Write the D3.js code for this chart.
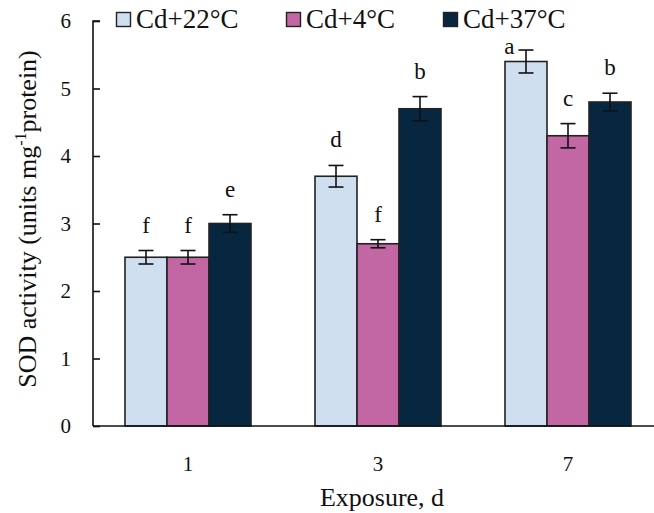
<!DOCTYPE html>
<html>
<head>
<meta charset="utf-8">
<script src="https://cdn.jsdelivr.net/npm/d3@7"></script>
<style>
  html, body { margin: 0; padding: 0; background: #fff; }
  svg { display: block; font-family: "Liberation Serif", "Times New Roman", serif; }
</style>
</head>
<body>
<svg id="chart" width="654" height="513"></svg>
<script>
// Exposure days and treatment series
const days = ["1", "3", "7"];
const series = ["Cd+22°C", "Cd+4°C", "Cd+37°C"];

// SOD activity (units mg-1 protein), one array per series, ordered by day
const sod22 = [2.5, 3.7, 5.4];
const sod4  = [2.5, 2.7, 4.3];
const sod37 = [3.0, 4.7, 4.8];

// Error bar half-lengths
const err22 = [0.10, 0.16, 0.17];
const err4  = [0.10, 0.06, 0.18];
const err37 = [0.13, 0.18, 0.13];

// Significance letters
const sig22 = ["f", "d", "a"];
const sig4  = ["f", "f", "c"];
const sig37 = ["e", "b", "b"];

const yTicks = [0, 1, 2, 3, 4, 5, 6];

const colors = ["#d0dfef", "#c267a4", "#07263f"];

const values = [sod22, sod4, sod37];
const errors = [err22, err4, err37];
const letters = [sig22, sig4, sig37];

const rows = [];
days.forEach((d, i) => {
  series.forEach((s, j) => {
    rows.push({ day: d, series: s, j, value: values[j][i], err: errors[j][i], sig: letters[j][i] });
  });
});

const svg = d3.select("#chart");
const axisX = 93, plotTop = 21, plotBottom = 426, plotRight = 663;

const y = d3.scaleLinear().domain([0, 6]).range([plotBottom, plotTop]);
const x0 = d3.scalePoint().domain(days).range([axisX, plotRight]).padding(0.5);
const x1 = d3.scaleBand().domain(series).range([-63, 63]);

// Bars
svg.append("g").selectAll("rect").data(rows).join("rect")
  .attr("x", d => x0(d.day) + x1(d.series))
  .attr("y", d => y(d.value))
  .attr("width", x1.bandwidth())
  .attr("height", d => y(0) - y(d.value))
  .attr("fill", d => colors[d.j])
  .attr("stroke", "#222")
  .attr("stroke-width", 1.6);

// Error bars
const cap = 7.5;
const eb = svg.append("g").attr("stroke", "#111").attr("stroke-width", 1.6).attr("fill", "none");
rows.forEach(d => {
  const cx = x0(d.day) + x1(d.series) + x1.bandwidth() / 2;
  const y1 = y(d.value + d.err), y2 = y(d.value - d.err);
  eb.append("line").attr("x1", cx).attr("x2", cx).attr("y1", y1).attr("y2", y2);
  eb.append("line").attr("x1", cx - cap).attr("x2", cx + cap).attr("y1", y1).attr("y2", y1);
  eb.append("line").attr("x1", cx - cap).attr("x2", cx + cap).attr("y1", y2).attr("y2", y2);
});

// Significance letters above the error bars; a letter that would run into
// the legend is set beside the cap instead
const legendBand = 46;
svg.append("g").selectAll("text").data(rows).join("text")
  .each(function (d) {
    const cx = x0(d.day) + x1(d.series) + x1.bandwidth() / 2;
    const yTop = y(d.value + d.err);
    const t = d3.select(this).attr("font-size", 23).attr("fill", "#111").text(d.sig);
    if (yTop - 18 - 16 < legendBand) {
      t.attr("x", cx - cap - 4).attr("y", yTop + 4).attr("text-anchor", "end");
    } else {
      t.attr("x", cx).attr("y", yTop - 18).attr("text-anchor", "middle");
    }
  });

// Y axis with inward ticks
const yAxis = svg.append("g").attr("transform", `translate(${axisX},0)`)
  .call(d3.axisRight(y).tickValues(yTicks).tickSize(7).tickFormat(""));
yAxis.select(".domain").attr("d", `M7,${plotTop}H0V${plotBottom}`).attr("stroke", "#111").attr("stroke-width", 1.6);
yAxis.selectAll(".tick line").attr("stroke", "#111").attr("stroke-width", 1.6);
svg.append("g").selectAll("text").data(yTicks).join("text")
  .attr("x", 71).attr("y", d => y(d) + 7)
  .attr("text-anchor", "end").attr("font-size", 21).attr("fill", "#111")
  .text(d => d);

// X axis
svg.append("line").attr("x1", axisX).attr("x2", plotRight).attr("y1", plotBottom).attr("y2", plotBottom)
  .attr("stroke", "#111").attr("stroke-width", 1.6);
svg.append("g").selectAll("text").data(days).join("text")
  .attr("x", d => x0(d)).attr("y", 471)
  .attr("text-anchor", "middle").attr("font-size", 21).attr("fill", "#111")
  .text(d => d);

// Axis titles
svg.append("text").attr("x", 382).attr("y", 506).attr("text-anchor", "middle")
  .attr("font-size", 26).attr("fill", "#111").text("Exposure, d");

const yTitle = svg.append("text")
  .attr("transform", "translate(36,219) rotate(-90)")
  .attr("text-anchor", "middle").attr("font-size", 26).attr("fill", "#111");
yTitle.append("tspan").text("SOD activity (units mg");
yTitle.append("tspan").attr("font-size", 16).attr("dy", -10).text("-1");
yTitle.append("tspan").attr("dy", 10).text("protein)");

// Legend
const legendX = [116, 286, 443];
const lg = svg.append("g").selectAll("g").data(series).join("g")
  .attr("transform", (d, i) => `translate(${legendX[i]},0)`);
lg.append("rect").attr("x", 0.5).attr("y", 12.5).attr("width", 14).attr("height", 14)
  .attr("fill", (d, i) => colors[i]).attr("stroke", "#222").attr("stroke-width", 1.4);
lg.append("text").attr("x", 20).attr("y", 28).attr("font-size", 27).attr("fill", "#111")
  .text(d => d);
</script>
</body>
</html>
